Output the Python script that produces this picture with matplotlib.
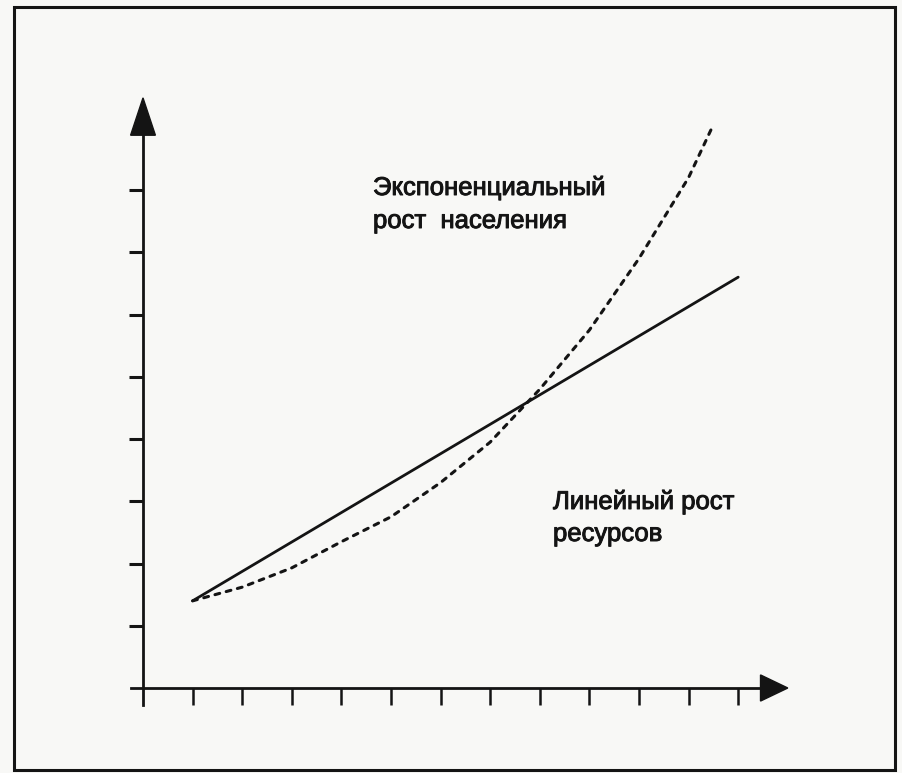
import matplotlib
matplotlib.use("Agg")
import matplotlib.pyplot as plt
from matplotlib.patches import Rectangle, Polygon
from matplotlib import font_manager
import matplotlib.patheffects as pe

# ---- data ----
x_ticks = [1, 2, 3, 4, 5, 6, 7, 8, 9, 10, 11, 12]
y_ticks = [1, 2, 3, 4, 5, 6, 7, 8]

linear_x = [1.0, 12.0]
linear_y = [1.4, 6.6]

exp_x = [1.0, 2.0, 3.0, 4.0, 5.0, 6.0, 7.0, 8.0, 9.0, 10.0, 11.0, 11.5]
exp_y = [1.4, 1.62, 1.93, 2.35, 2.75, 3.3, 3.95, 4.8, 5.75, 6.9, 8.2, 9.05]

label_exp = ["Экспоненциальный", "рост  населения"]
label_lin = ["Линейный рост", "ресурсов"]

# ---- fonts ----
avail = {f.name for f in font_manager.fontManager.ttflist}
fam = "Liberation Sans" if "Liberation Sans" in avail else "DejaVu Sans"
plt.rcParams['font.family'] = [fam, 'DejaVu Sans']

W, H = 903, 773
bg = '#f8f8f6'
ink = '#141414'

fig = plt.figure(figsize=(W / 100, H / 100), dpi=100, facecolor=bg)

# axes geometry (pixels)
x0_px, y0_px = 143.0, 688.0
ux, uy = 49.6, 62.25
xmin, xmax = -0.4, 13.2
ymin, ymax = -0.4, 9.6
left = (x0_px + xmin * ux) / W
bottom = (H - (y0_px - ymin * uy)) / H
ax = fig.add_axes([left, bottom, (xmax - xmin) * ux / W, (ymax - ymin) * uy / H])
ax.set_facecolor('none')
ax.set_xlim(xmin, xmax)
ax.set_ylim(ymin, ymax)

for s in ['top', 'right']:
    ax.spines[s].set_visible(False)
ax.spines['left'].set_position(('data', 0))
ax.spines['bottom'].set_position(('data', 0))
ax.spines['left'].set_bounds(-0.28, 9.0)
ax.spines['bottom'].set_bounds(-0.25, 12.6)
for s in ['left', 'bottom']:
    ax.spines[s].set_linewidth(2.0)
    ax.spines[s].set_color(ink)

ax.set_xticks(x_ticks)
ax.set_yticks(y_ticks)
ax.set_xticklabels([])
ax.set_yticklabels([])
ax.tick_params(axis='x', direction='out', length=12.5, width=1.8, color=ink)
ax.tick_params(axis='y', direction='out', length=10, width=2.2, color=ink)

# arrowheads
ax.add_patch(Polygon([(12.45, -0.21), (13.0, 0.0), (12.45, 0.21)], closed=True,
                     facecolor=ink, edgecolor=ink, lw=1, clip_on=False))
ax.add_patch(Polygon([(-0.25, 8.88), (0.0, 9.48), (0.25, 8.88)], closed=True,
                     facecolor=ink, edgecolor=ink, lw=1, clip_on=False))

# lines
ax.plot(linear_x, linear_y, color=ink, lw=2.0, solid_capstyle='round')
ax.plot(exp_x, exp_y, color=ink, lw=2.2, linestyle=(0, (1.6, 2.2)),
        dash_capstyle='round')

# labels (figure pixel positions)
def ftext(px, py, s):
    fig.text(px / W, 1 - py / H, s, fontsize=18.5, color=ink, ha='left',
             va='baseline',
             path_effects=[pe.withStroke(linewidth=0.7, foreground=ink)])

ftext(373, 195, label_exp[0])
ftext(373, 228, label_exp[1])
ftext(553, 509, label_lin[0])
ftext(553, 541, label_lin[1])

# outer frame
fig.patches.append(Rectangle((14 / W, 1 - 770 / H), (895 - 14) / W, (770 - 7) / H,
                             transform=fig.transFigure, fill=False,
                             edgecolor=ink, lw=2.2))

fig.savefig('out.png', dpi=100, facecolor=bg)
